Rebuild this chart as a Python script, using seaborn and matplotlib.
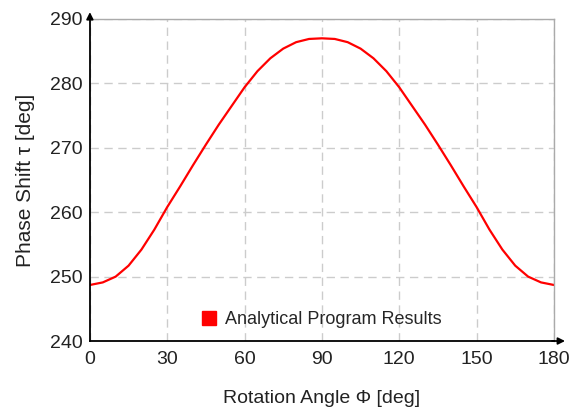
import pandas as pd
import matplotlib.pyplot as plt
import seaborn as sns
from matplotlib.patches import Patch

# Values (every 5 deg)
angle = [0, 5, 10, 15, 20, 25, 30, 35, 40, 45, 50, 55, 60, 65, 70, 75, 80, 85, 90,
         95, 100, 105, 110, 115, 120, 125, 130, 135, 140, 145, 150, 155, 160, 165, 170, 175, 180]
phase_shift = [248.7, 249.1, 250.0, 251.7, 254.2, 257.3, 260.8, 264.0, 267.3, 270.5,
               273.6, 276.5, 279.4, 281.9, 283.9, 285.4, 286.4, 286.9, 287.0,
               286.9, 286.4, 285.4, 283.9, 281.9, 279.4, 276.5, 273.6, 270.5, 267.3,
               264.0, 260.8, 257.3, 254.2, 251.7, 250.0, 249.1, 248.7]
x_ticks = [0, 30, 60, 90, 120, 150, 180]
y_ticks = [240, 250, 260, 270, 280, 290]

df = pd.DataFrame({'angle': angle, 'tau': phase_shift})

sns.set_theme(style='white')
plt.rcParams['font.family'] = ['Liberation Sans', 'DejaVu Sans']

fig = plt.figure(figsize=(5.8, 4.12), dpi=100)
ax = fig.add_axes([0.155, 0.1723, 0.8, 0.7816])

sns.lineplot(data=df, x='angle', y='tau', color='red', linewidth=1.6, ax=ax)

ax.set_xlim(0, 180)
ax.set_ylim(240, 290)
ax.set_xticks(x_ticks)
ax.set_yticks(y_ticks)
ax.tick_params(axis='both', labelsize=14, colors='#222222', length=3, width=1,
               direction='out', pad=2)
ax.tick_params(axis='x', pad=4)

ax.grid(True, color='#cccccc', linestyle=(0, (6, 4)), linewidth=1)
ax.set_axisbelow(True)

for side in ['top', 'right']:
    ax.spines[side].set_color('#aaaaaa')
    ax.spines[side].set_linewidth(1)
for side in ['left', 'bottom']:
    ax.spines[side].set_color('black')
    ax.spines[side].set_linewidth(1.3)

# axis arrows
ax.annotate('', xy=(0, 1.03), xytext=(0, 0.99), xycoords='axes fraction',
            arrowprops=dict(arrowstyle='-|>', color='black', lw=1.3, mutation_scale=10))
ax.annotate('', xy=(1.03, 0), xytext=(0.99, 0), xycoords='axes fraction',
            arrowprops=dict(arrowstyle='-|>', color='black', lw=1.3, mutation_scale=10))

ax.set_xlabel('Rotation Angle Φ [deg]', fontsize=14, color='#222222', labelpad=16)
ax.set_ylabel('Phase Shift τ [deg]', fontsize=15, color='#222222', labelpad=11)

handle = Patch(facecolor='red', edgecolor='red')
ax.legend([handle], ['Analytical Program Results'], loc='lower center',
          bbox_to_anchor=(0.5, -0.01), frameon=False, fontsize=13,
          handlelength=0.8, handleheight=0.8, handletextpad=0.5)

fig.savefig('out.png', dpi=100)
